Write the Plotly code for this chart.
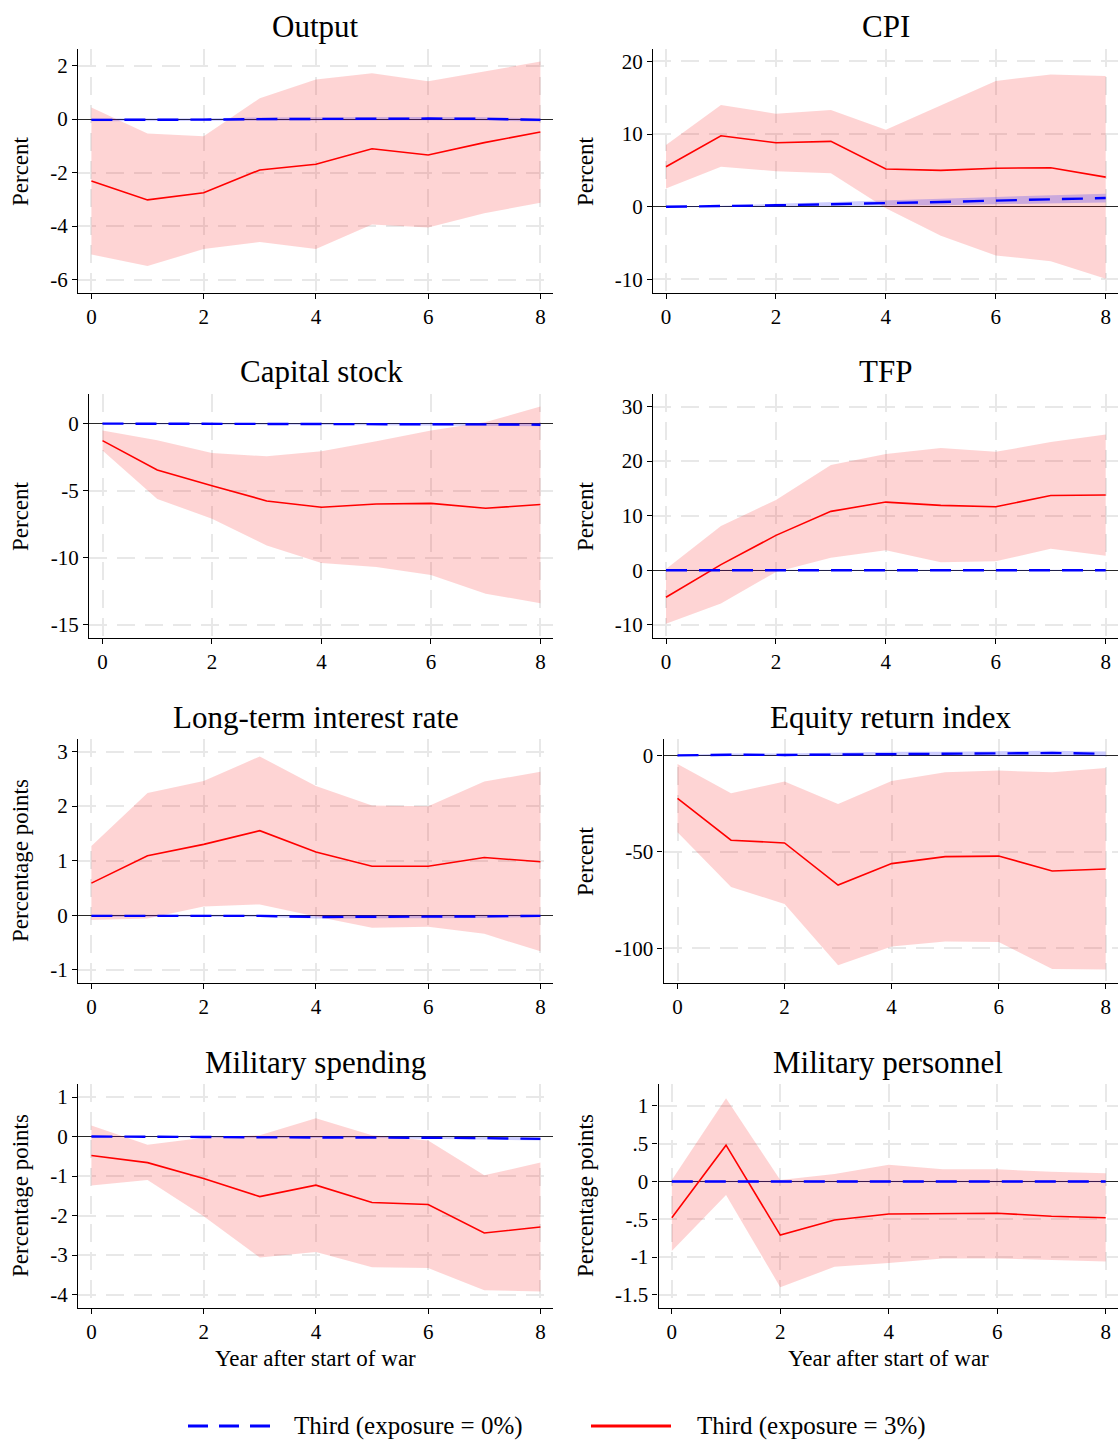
import plotly.graph_objects as go

# ---------------- data ----------------
horizon = [0, 1, 2, 3, 4, 5, 6, 7, 8]

titles = ["Output", "CPI", "Capital stock", "TFP",
          "Long-term interest rate", "Equity return index",
          "Military spending", "Military personnel"]
ylabels = ["Percent", "Percent", "Percent", "Percent",
           "Percentage points", "Percent",
           "Percentage points", "Percentage points"]
legend_names = ["Third (exposure = 0%)", "Third (exposure = 3%)"]

# Output
output_red = [-2.31, -3.02, -2.75, -1.90, -1.69, -1.11, -1.34, -0.88, -0.48]
output_red_hi = [0.43, -0.54, -0.64, 0.78, 1.48, 1.71, 1.41, 1.79, 2.15]
output_red_lo = [-5.06, -5.49, -4.86, -4.59, -4.86, -3.94, -4.05, -3.52, -3.13]
output_blue = [-0.03, -0.03, -0.02, 0.00, 0.01, 0.02, 0.02, 0.01, -0.03]
output_blue_hi = [0.02, 0.02, 0.03, 0.06, 0.07, 0.08, 0.08, 0.07, 0.03]
output_blue_lo = [-0.08, -0.08, -0.07, -0.06, -0.05, -0.04, -0.04, -0.05, -0.09]

# CPI
cpi_red = [5.5, 9.77, 8.8, 9.0, 5.2, 5.0, 5.3, 5.37, 4.08]
cpi_red_hi = [8.5, 14.0, 12.8, 13.3, 10.6, 14.0, 17.3, 18.2, 18.0]
cpi_red_lo = [2.5, 5.5, 4.9, 4.6, -0.2, -4.0, -6.7, -7.5, -9.9]
cpi_blue = [0.0, 0.05, 0.2, 0.35, 0.45, 0.65, 0.85, 1.0, 1.2]
cpi_blue_hi = [0.05, 0.15, 0.4, 0.6, 0.8, 1.1, 1.35, 1.55, 1.8]
cpi_blue_lo = [-0.05, -0.05, 0.0, 0.1, 0.1, 0.2, 0.35, 0.5, 0.6]

# Capital stock
capital_red = [-1.27, -3.46, -4.63, -5.77, -6.24, -6.0, -5.95, -6.32, -6.04]
capital_red_hi = [-0.52, -1.24, -2.19, -2.44, -2.06, -1.32, -0.52, 0.12, 1.27]
capital_red_lo = [-2.0, -5.62, -7.1, -9.1, -10.4, -10.7, -11.3, -12.7, -13.4]
capital_blue = [0.0, 0.0, -0.01, -0.02, -0.03, -0.04, -0.05, -0.06, -0.08]
capital_blue_hi = [0.05, 0.05, 0.05, 0.05, 0.05, 0.05, 0.05, 0.05, 0.04]
capital_blue_lo = [-0.05, -0.05, -0.07, -0.09, -0.11, -0.13, -0.15, -0.17, -0.2]

# TFP
tfp_red = [-4.94, 1.04, 6.4, 10.8, 12.5, 11.9, 11.65, 13.7, 13.8]
tfp_red_hi = [0.24, 8.1, 12.9, 19.3, 21.3, 22.4, 21.7, 23.5, 24.9]
tfp_red_lo = [-9.8, -6.1, -0.3, 2.3, 3.66, 1.46, 1.65, 3.96, 2.68]
tfp_blue = [0.0, 0.0, 0.0, 0.0, 0.0, 0.0, 0.0, 0.0, 0.0]
tfp_blue_hi = [0.1, 0.1, 0.1, 0.1, 0.1, 0.1, 0.1, 0.1, 0.1]
tfp_blue_lo = [-0.1, -0.1, -0.1, -0.1, -0.1, -0.1, -0.1, -0.1, -0.1]

# Long-term interest rate
rate_red = [0.59, 1.09, 1.30, 1.55, 1.16, 0.90, 0.90, 1.06, 0.98]
rate_red_hi = [1.27, 2.24, 2.46, 2.91, 2.37, 2.01, 2.00, 2.45, 2.63]
rate_red_lo = [-0.085, -0.06, 0.16, 0.20, -0.02, -0.23, -0.21, -0.34, -0.66]
rate_blue = [-0.01, -0.01, 0.0, -0.01, -0.03, -0.03, -0.02, -0.02, -0.01]
rate_blue_hi = [0.01, 0.01, 0.02, 0.01, 0.0, 0.0, 0.01, 0.01, 0.01]
rate_blue_lo = [-0.03, -0.03, -0.02, -0.03, -0.06, -0.06, -0.05, -0.05, -0.03]

# Equity return index
equity_red = [-22.3, -44.0, -45.4, -67.2, -56.1, -52.5, -52.2, -59.9, -58.9]
equity_red_hi = [-4.5, -19.7, -13.6, -25.2, -13.3, -8.8, -7.9, -8.8, -6.6]
equity_red_lo = [-39.9, -68.2, -77.0, -108.8, -99.0, -96.5, -96.7, -110.7, -111.0]
equity_blue = [0.0, 0.3, 0.2, 0.4, 0.8, 0.8, 0.9, 1.2, 0.8]
equity_blue_hi = [0.3, 0.9, 0.9, 1.3, 1.8, 1.8, 2.0, 2.4, 2.0]
equity_blue_lo = [-0.3, -0.3, -0.5, -0.5, -0.2, -0.2, -0.2, 0.0, -0.4]

# Military spending
milspend_red = [-0.48, -0.66, -1.06, -1.52, -1.23, -1.67, -1.72, -2.44, -2.29]
milspend_red_hi = [0.28, -0.21, -0.03, 0.03, 0.46, 0.03, -0.10, -0.98, -0.66]
milspend_red_lo = [-1.24, -1.10, -2.02, -3.06, -2.92, -3.31, -3.33, -3.89, -3.92]
milspend_blue = [0.0, 0.0, -0.01, -0.02, -0.02, -0.02, -0.03, -0.04, -0.06]
milspend_blue_hi = [0.01, 0.01, 0.01, 0.0, 0.0, 0.0, 0.0, -0.01, -0.02]
milspend_blue_lo = [-0.01, -0.01, -0.03, -0.04, -0.04, -0.04, -0.06, -0.07, -0.10]

# Military personnel
milpers_red = [-0.48, 0.48, -0.71, -0.51, -0.43, -0.43, -0.42, -0.46, -0.48]
milpers_red_hi = [0.02, 1.10, 0.02, 0.10, 0.22, 0.16, 0.16, 0.13, 0.11]
milpers_red_lo = [-0.92, -0.18, -1.40, -1.13, -1.08, -1.02, -1.02, -1.04, -1.06]
milpers_blue = [0.0, 0.0, 0.0, 0.0, 0.0, 0.0, 0.0, 0.0, 0.0]
milpers_blue_hi = [0.01, 0.01, 0.01, 0.01, 0.01, 0.01, 0.01, 0.01, 0.01]
milpers_blue_lo = [-0.01, -0.01, -0.01, -0.01, -0.01, -0.01, -0.01, -0.01, -0.01]

yticks = [
    [-6, -4, -2, 0, 2],
    [-10, 0, 10, 20],
    [-15, -10, -5, 0],
    [-10, 0, 10, 20, 30],
    [-1, 0, 1, 2, 3],
    [-100, -50, 0],
    [-4, -3, -2, -1, 0, 1],
    [-1.5, -1, -0.5, 0, 0.5, 1],
]
ytick_labels = [
    ["-6", "-4", "-2", "0", "2"],
    ["-10", "0", "10", "20"],
    ["-15", "-10", "-5", "0"],
    ["-10", "0", "10", "20", "30"],
    ["-1", "0", "1", "2", "3"],
    ["-100", "-50", "0"],
    ["-4", "-3", "-2", "-1", "0", "1"],
    ["-1.5", "-1", "-.5", "0", ".5", "1"],
]
xticks = [0, 2, 4, 6, 8]

panels = [
    (output_red, output_red_lo, output_red_hi, output_blue, output_blue_lo, output_blue_hi),
    (cpi_red, cpi_red_lo, cpi_red_hi, cpi_blue, cpi_blue_lo, cpi_blue_hi),
    (capital_red, capital_red_lo, capital_red_hi, capital_blue, capital_blue_lo, capital_blue_hi),
    (tfp_red, tfp_red_lo, tfp_red_hi, tfp_blue, tfp_blue_lo, tfp_blue_hi),
    (rate_red, rate_red_lo, rate_red_hi, rate_blue, rate_blue_lo, rate_blue_hi),
    (equity_red, equity_red_lo, equity_red_hi, equity_blue, equity_blue_lo, equity_blue_hi),
    (milspend_red, milspend_red_lo, milspend_red_hi, milspend_blue, milspend_blue_lo, milspend_blue_hi),
    (milpers_red, milpers_red_lo, milpers_red_hi, milpers_blue, milpers_blue_lo, milpers_blue_hi),
]

# ---------------- layout (pixel geometry) ----------------
W, H = 1118, 1441
# (left px, right px, top px, bottom px, px of x=0, px of x=8)
boxes = [
    (78, 553, 49, 293, 91.4, 540.4),
    (653, 1118, 49, 293, 666.0, 1105.7),
    (89, 553, 394, 638, 102.5, 540.4),
    (653, 1118, 394, 638, 666.0, 1105.7),
    (78, 553, 739, 983, 91.4, 540.4),
    (663.6, 1118, 739, 983, 677.5, 1105.7),
    (78, 553, 1084, 1308, 91.4, 540.4),
    (658.6, 1118, 1084, 1308, 671.8, 1105.7),
]
yranges = [
    (-6.5, 2.62), (-11.86, 21.7), (-16.0, 2.21), (-12.4, 32.3),
    (-1.24, 3.23), (-117.96, 8.46), (-4.34, 1.33), (-1.675, 1.29),
]

FONT = "Liberation Serif"
RED = "rgb(255,0,0)"
BLUE = "rgb(0,0,255)"
RED_FILL = "rgba(250,0,0,0.17)"
BLUE_FILL = "rgba(0,0,255,0.2)"
GRID = "rgb(232,232,232)"
GRID_DASH = "18px,10px"

fig = go.Figure()
annotations = []
layout_axes = {}

for i, (data, box) in enumerate(zip(panels, boxes)):
    red, red_lo, red_hi, blue, blue_lo, blue_hi = data
    L, R, T, B, Z, E = box
    n = i + 1
    xa = "x" if n == 1 else f"x{n}"
    ya = "y" if n == 1 else f"y{n}"
    ppu = (E - Z) / 8.0
    xr = [(L - Z) / ppu, 8 + (R - E) / ppu]

    # red band
    fig.add_trace(go.Scatter(x=horizon, y=red_hi, mode="lines", line=dict(width=0),
                             hoverinfo="skip", showlegend=False, xaxis=xa, yaxis=ya))
    fig.add_trace(go.Scatter(x=horizon, y=red_lo, mode="lines", line=dict(width=0),
                             fill="tonexty", fillcolor=RED_FILL,
                             hoverinfo="skip", showlegend=False, xaxis=xa, yaxis=ya))
    # blue band
    fig.add_trace(go.Scatter(x=horizon, y=blue_hi, mode="lines", line=dict(width=0),
                             hoverinfo="skip", showlegend=False, xaxis=xa, yaxis=ya))
    fig.add_trace(go.Scatter(x=horizon, y=blue_lo, mode="lines", line=dict(width=0),
                             fill="tonexty", fillcolor=BLUE_FILL,
                             hoverinfo="skip", showlegend=False, xaxis=xa, yaxis=ya))
    # lines
    fig.add_trace(go.Scatter(x=horizon, y=red, mode="lines",
                             line=dict(color=RED, width=1.6),
                             name=legend_names[1], showlegend=False, xaxis=xa, yaxis=ya))
    fig.add_trace(go.Scatter(x=horizon, y=blue, mode="lines",
                             line=dict(color=BLUE, width=2.4, dash="21px,12px"),
                             name=legend_names[0], showlegend=False, xaxis=xa, yaxis=ya))

    xkey = "xaxis" if n == 1 else f"xaxis{n}"
    ykey = "yaxis" if n == 1 else f"yaxis{n}"
    layout_axes[xkey] = dict(
        domain=[L / W, R / W], anchor=ya, range=xr,
        tickmode="array", tickvals=xticks, ticktext=[str(t) for t in xticks],
        showline=True, linecolor="black", linewidth=1.3, mirror=False,
        ticks="outside", ticklen=5, tickwidth=1.2, tickcolor="black",
        showgrid=True, gridcolor=GRID, gridwidth=1.5, griddash=GRID_DASH,
        zeroline=False, ticklabelstandoff=0,
        tickfont=dict(family=FONT, size=21, color="black"),
    )
    layout_axes[ykey] = dict(
        domain=[1 - B / H, 1 - T / H], anchor=xa, range=list(yranges[i]),
        tickmode="array", tickvals=yticks[i], ticktext=ytick_labels[i],
        showline=True, linecolor="black", linewidth=1.3,
        ticks="outside", ticklen=5, tickwidth=1.2, tickcolor="black",
        showgrid=True, gridcolor=GRID, gridwidth=1.5, griddash=GRID_DASH,
        zeroline=True, zerolinecolor="rgb(40,40,40)", zerolinewidth=1.2,
        tickfont=dict(family=FONT, size=21, color="black"),
    )

    # panel title
    annotations.append(dict(
        text=titles[i], xref="paper", yref="paper",
        x=((L + R) / 2) / W, y=1 - (T - 22) / H,
        xanchor="center", yanchor="middle", showarrow=False,
        font=dict(family=FONT, size=31, color="black"),
    ))
    # y-axis title
    yx = 20 if L < 300 else 585
    annotations.append(dict(
        text=ylabels[i], xref="paper", yref="paper",
        x=yx / W, y=1 - ((T + B) / 2) / H, textangle=-90,
        xanchor="center", yanchor="middle", showarrow=False,
        font=dict(family=FONT, size=23, color="black"),
    ))
    # x-axis title for bottom row
    if n >= 7:
        annotations.append(dict(
            text="Year after start of war", xref="paper", yref="paper",
            x=((Z + E) / 2) / W, y=1 - 1358 / H,
            xanchor="center", yanchor="middle", showarrow=False,
            font=dict(family=FONT, size=23, color="black"),
        ))

# legend (manual keys)
legend_y = 1 - 1426 / H
shapes = [
    dict(type="line", xref="paper", yref="paper", x0=188 / W, x1=270 / W,
         y0=legend_y, y1=legend_y, line=dict(color=BLUE, width=3.2, dash="20px,11px")),
    dict(type="line", xref="paper", yref="paper", x0=591 / W, x1=671 / W,
         y0=legend_y, y1=legend_y, line=dict(color=RED, width=3.2)),
]
annotations.append(dict(text=legend_names[0], xref="paper", yref="paper",
                        x=292 / W, y=legend_y, xanchor="left", yanchor="middle",
                        showarrow=False, font=dict(family=FONT, size=25, color="black")))
annotations.append(dict(text=legend_names[1], xref="paper", yref="paper",
                        x=695 / W, y=legend_y, xanchor="left", yanchor="middle",
                        showarrow=False, font=dict(family=FONT, size=25, color="black")))

fig.update_layout(
    width=W, height=H, autosize=False,
    margin=dict(l=0, r=0, t=0, b=0),
    paper_bgcolor="white", plot_bgcolor="white",
    showlegend=False,
    annotations=annotations, shapes=shapes,
    font=dict(family=FONT, color="black"),
    **layout_axes,
)

fig.write_html("out.html",
               config={"displayModeBar": False},
               post_script="document.body.style.margin='0';"
                           "document.body.style.overflow='hidden';")
